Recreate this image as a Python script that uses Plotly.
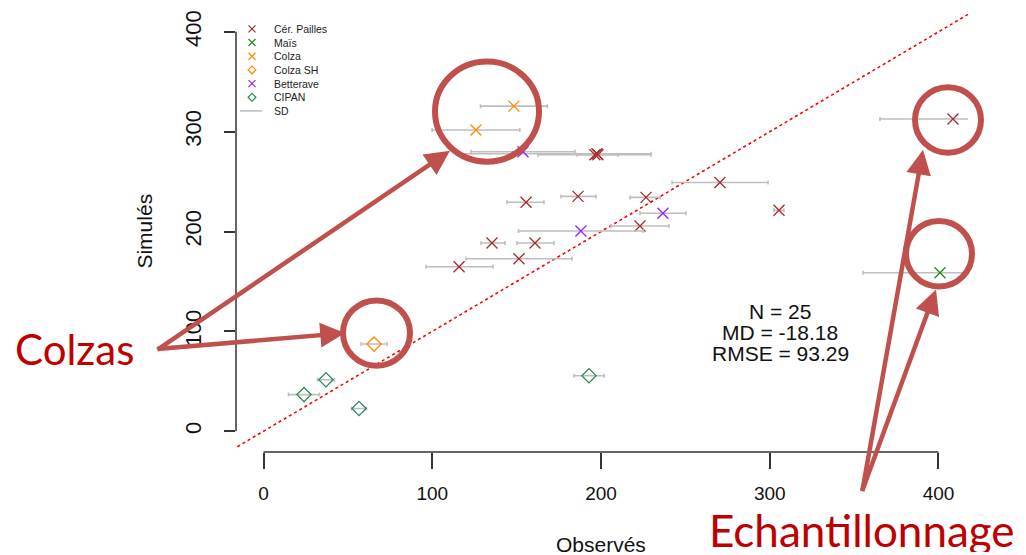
import plotly.graph_objects as go

# ---------------- data ----------------
cer_obs = [196.4, 198.2, 197.6, 186.4, 155.6, 226.7, 270.5, 305.5, 408.6, 223.1, 135.4, 160.9, 151.4, 115.9]
cer_sim = [276.9, 276.9, 277.9, 235.2, 229.3, 234.2, 249.1, 221.3, 312.7, 205.5, 188.6, 188.6, 172.7, 164.8]
cer_sd_moins = [33.7, 12.4, 83.5, 10.1, 11.3, 9.5, 28.4, 3.0, 43.3, 17.2, 6.5, 10.7, 31.4, 19.6]
cer_sd_plus = [33.2, 11.9, 32.0, 10.6, 10.6, 8.3, 28.5, 2.9, 43.3, 17.2, 7.7, 11.2, 31.4, 20.1]

mais_obs = [400.9]
mais_sim = [158.8]
mais_sd = [45.6]

colza_obs = [148.4, 125.9]
colza_sim = [325.6, 301.7]
colza_sd = [19.8, 26.0]

colzash_obs = [65.5]
colzash_sim = [87.3]
colzash_sd = [7.7]

bett_obs = [153.8, 236.7, 188.1]
bett_sim = [279.9, 218.4, 200.5]
bett_sd = [30.8, 13.6, 37.0]

cipan_obs = [37.0, 24.0, 56.6, 192.9]
cipan_sim = [51.6, 36.7, 22.8, 55.6]
cipan_sd = [5.0, 9.2, 4.4, 8.9]

ticks = [0, 100, 200, 300, 400]
stats = ["N = 25", "MD = -18.18", "RMSE = 93.29"]
stats_y = [120.6, 99.0, 77.9]
stats_x = 306.1

# ---------------- layout geometry ----------------
W, H = 1026, 555
L, R, T, B = 236, 58, 10, 103
PW, PH = W - L - R, H - T - B


def px(x):
    return (x - L) / PW


def py(y):
    return (H - B - y) / PH


SD_COL = "#BEBEBE"
FONT = "Liberation Sans"

fig = go.Figure()

# 1:1 line
fig.add_trace(go.Scatter(x=[-40, 440], y=[-40, 440], mode="lines",
                         line=dict(color="red", dash="dot", width=1.6),
                         showlegend=False, hoverinfo="skip"))

groups = [
    ("Cér. Pailles", cer_obs, cer_sim, cer_sd_moins, cer_sd_plus, "x-thin-open", "#A52A2A", 11),
    ("Maïs", mais_obs, mais_sim, mais_sd, mais_sd, "x-thin-open", "#1E8B1E", 11),
    ("Colza", colza_obs, colza_sim, colza_sd, colza_sd, "x-thin-open", "#FF8C00", 11),
    ("Colza SH", colzash_obs, colzash_sim, colzash_sd, colzash_sd, "diamond-open", "#FF8C00", 11),
    ("Betterave", bett_obs, bett_sim, bett_sd, bett_sd, "x-thin-open", "#A020F0", 11),
    ("CIPAN", cipan_obs, cipan_sim, cipan_sd, cipan_sd, "diamond-open", "#2E8B57", 11),
]
for name, xo, ys, sdm, sdp, sym, col, size in groups:
    fig.add_trace(go.Scatter(
        x=xo, y=ys, mode="markers", name=name, showlegend=False,
        marker=dict(symbol=sym, size=size, color=col, line=dict(color=col, width=1.3)),
        error_x=dict(type="data", symmetric=False, array=sdp, arrayminus=sdm,
                     color=SD_COL, thickness=1.6, width=2),
        cliponaxis=True,
    ))

# ---------------- compact R-style legend (overlay axes in pixel units) ----------------
LEG_X_SYM, LEG_X_TXT, LEG_Y0, LEG_DY = 252, 272, 25, 13.8
annotations = []
for i, (name, _, _, _, _, sym, col, _) in enumerate(groups):
    yy = LEG_Y0 + i * LEG_DY
    fig.add_trace(go.Scatter(
        x=[LEG_X_SYM], y=[yy], xaxis="x2", yaxis="y2", mode="markers",
        marker=dict(symbol=sym, size=6 if "diamond" in sym else 7, color=col,
                    line=dict(color=col, width=1.2)),
        showlegend=False, hoverinfo="skip", cliponaxis=False))
    annotations.append(dict(x=LEG_X_TXT, y=yy, xref="x2", yref="y2", text=name,
                            xanchor="left", yanchor="middle", showarrow=False,
                            font=dict(family=FONT, size=10.5, color="#222222")))
yy = LEG_Y0 + len(groups) * LEG_DY
fig.add_trace(go.Scatter(
    x=[LEG_X_SYM - 12, LEG_X_SYM + 10], y=[yy, yy], xaxis="x2", yaxis="y2", mode="lines",
    line=dict(color=SD_COL, width=1.6), showlegend=False, hoverinfo="skip"))
annotations.append(dict(x=LEG_X_TXT, y=yy, xref="x2", yref="y2", text="SD",
                        xanchor="left", yanchor="middle", showarrow=False,
                        font=dict(family=FONT, size=10.5, color="#222222")))

# axis lines (R style: only across the tick range)
shapes = [
    dict(type="line", xref="x", yref="paper", x0=0, x1=400, y0=0, y1=0,
         line=dict(color="#333333", width=1.5)),
    dict(type="line", xref="paper", yref="y", x0=0, x1=0, y0=0, y1=400,
         line=dict(color="#333333", width=1.5)),
]

# slide overlays: circles
ANN_RED = "#C0504D"
for (x0, x1, y0, y1) in [(435, 539, 58, 159), (343, 410, 299, 365),
                         (915, 981, 84, 150), (906, 972, 219, 285)]:
    shapes.append(dict(type="circle", xref="paper", yref="paper",
                       x0=px(x0), x1=px(x1), y0=py(y1), y1=py(y0),
                       line=dict(color=ANN_RED, width=6), layer="above"))

for s, yv in zip(stats, stats_y):
    annotations.append(dict(x=stats_x, y=yv, xref="x", yref="y", text=s, showarrow=False,
                            xanchor="center", yanchor="middle", height=20,
                            font=dict(family=FONT, size=21, color="#111111")))

annotations.append(dict(x=200, y=py(545), xref="x", yref="paper", text="Observés",
                        xanchor="center", yanchor="middle",
                        showarrow=False, font=dict(family=FONT, size=21, color="#111111")))
annotations.append(dict(x=px(145), y=200, xref="paper", yref="y", text="Simulés",
                        xanchor="center", yanchor="middle",
                        textangle=-90, showarrow=False,
                        font=dict(family=FONT, size=21, color="#111111")))

# arrows (tip, tail) in pixels
for (tx, ty, sx, sy) in [(450, 148, 156, 348), (345, 332, 156, 348),
                         (923, 147, 862, 490), (936, 288, 862, 490)]:
    annotations.append(dict(x=px(tx), y=py(ty), xref="paper", yref="paper",
                            ax=sx - tx, ay=sy - ty, axref="pixel", ayref="pixel",
                            text="", showarrow=True, arrowhead=2, arrowsize=1.1,
                            arrowwidth=4.5, arrowcolor=ANN_RED, standoff=0))

annotations.append(dict(x=px(74), y=py(348), xref="paper", yref="paper", text="Colzas",
                        xanchor="center", yanchor="middle",
                        showarrow=False, font=dict(family="Lato", size=42, color="#C00000")))
annotations.append(dict(x=px(862), y=py(531), xref="paper", yref="paper",
                        text="Echantillonnage", showarrow=False,
                        xanchor="center", yanchor="middle", height=44,
                        font=dict(family="Lato", size=44, color="#C00000")))

fig.update_layout(
    width=W, height=H,
    margin=dict(l=L, r=R, t=T, b=B),
    paper_bgcolor="white", plot_bgcolor="white",
    font=dict(family=FONT, color="#111111"),
    xaxis=dict(range=[-16.3, 417.5], tickvals=ticks, ticks="outside", ticklen=16,
               tickwidth=1.5, tickcolor="#333333", showgrid=False, zeroline=False,
               showline=False, tickfont=dict(size=19, family=FONT, color="#111111"),
               ticklabelstandoff=8),
    yaxis=dict(range=[-20.8, 417.9], tickvals=ticks, ticks="outside", ticklen=11,
               tickwidth=1.5, tickcolor="#333333", showgrid=False, zeroline=False,
               showline=False, tickangle=-90,
               tickfont=dict(size=22, family=FONT, color="#111111"),
               ticklabelstandoff=14),
    xaxis2=dict(range=[L, W - R], overlaying="x", visible=False, fixedrange=True),
    yaxis2=dict(range=[H - B, T], overlaying="y", visible=False, fixedrange=True),
    shapes=shapes,
    annotations=annotations,
    showlegend=False,
)

fig.write_html("out.html")
